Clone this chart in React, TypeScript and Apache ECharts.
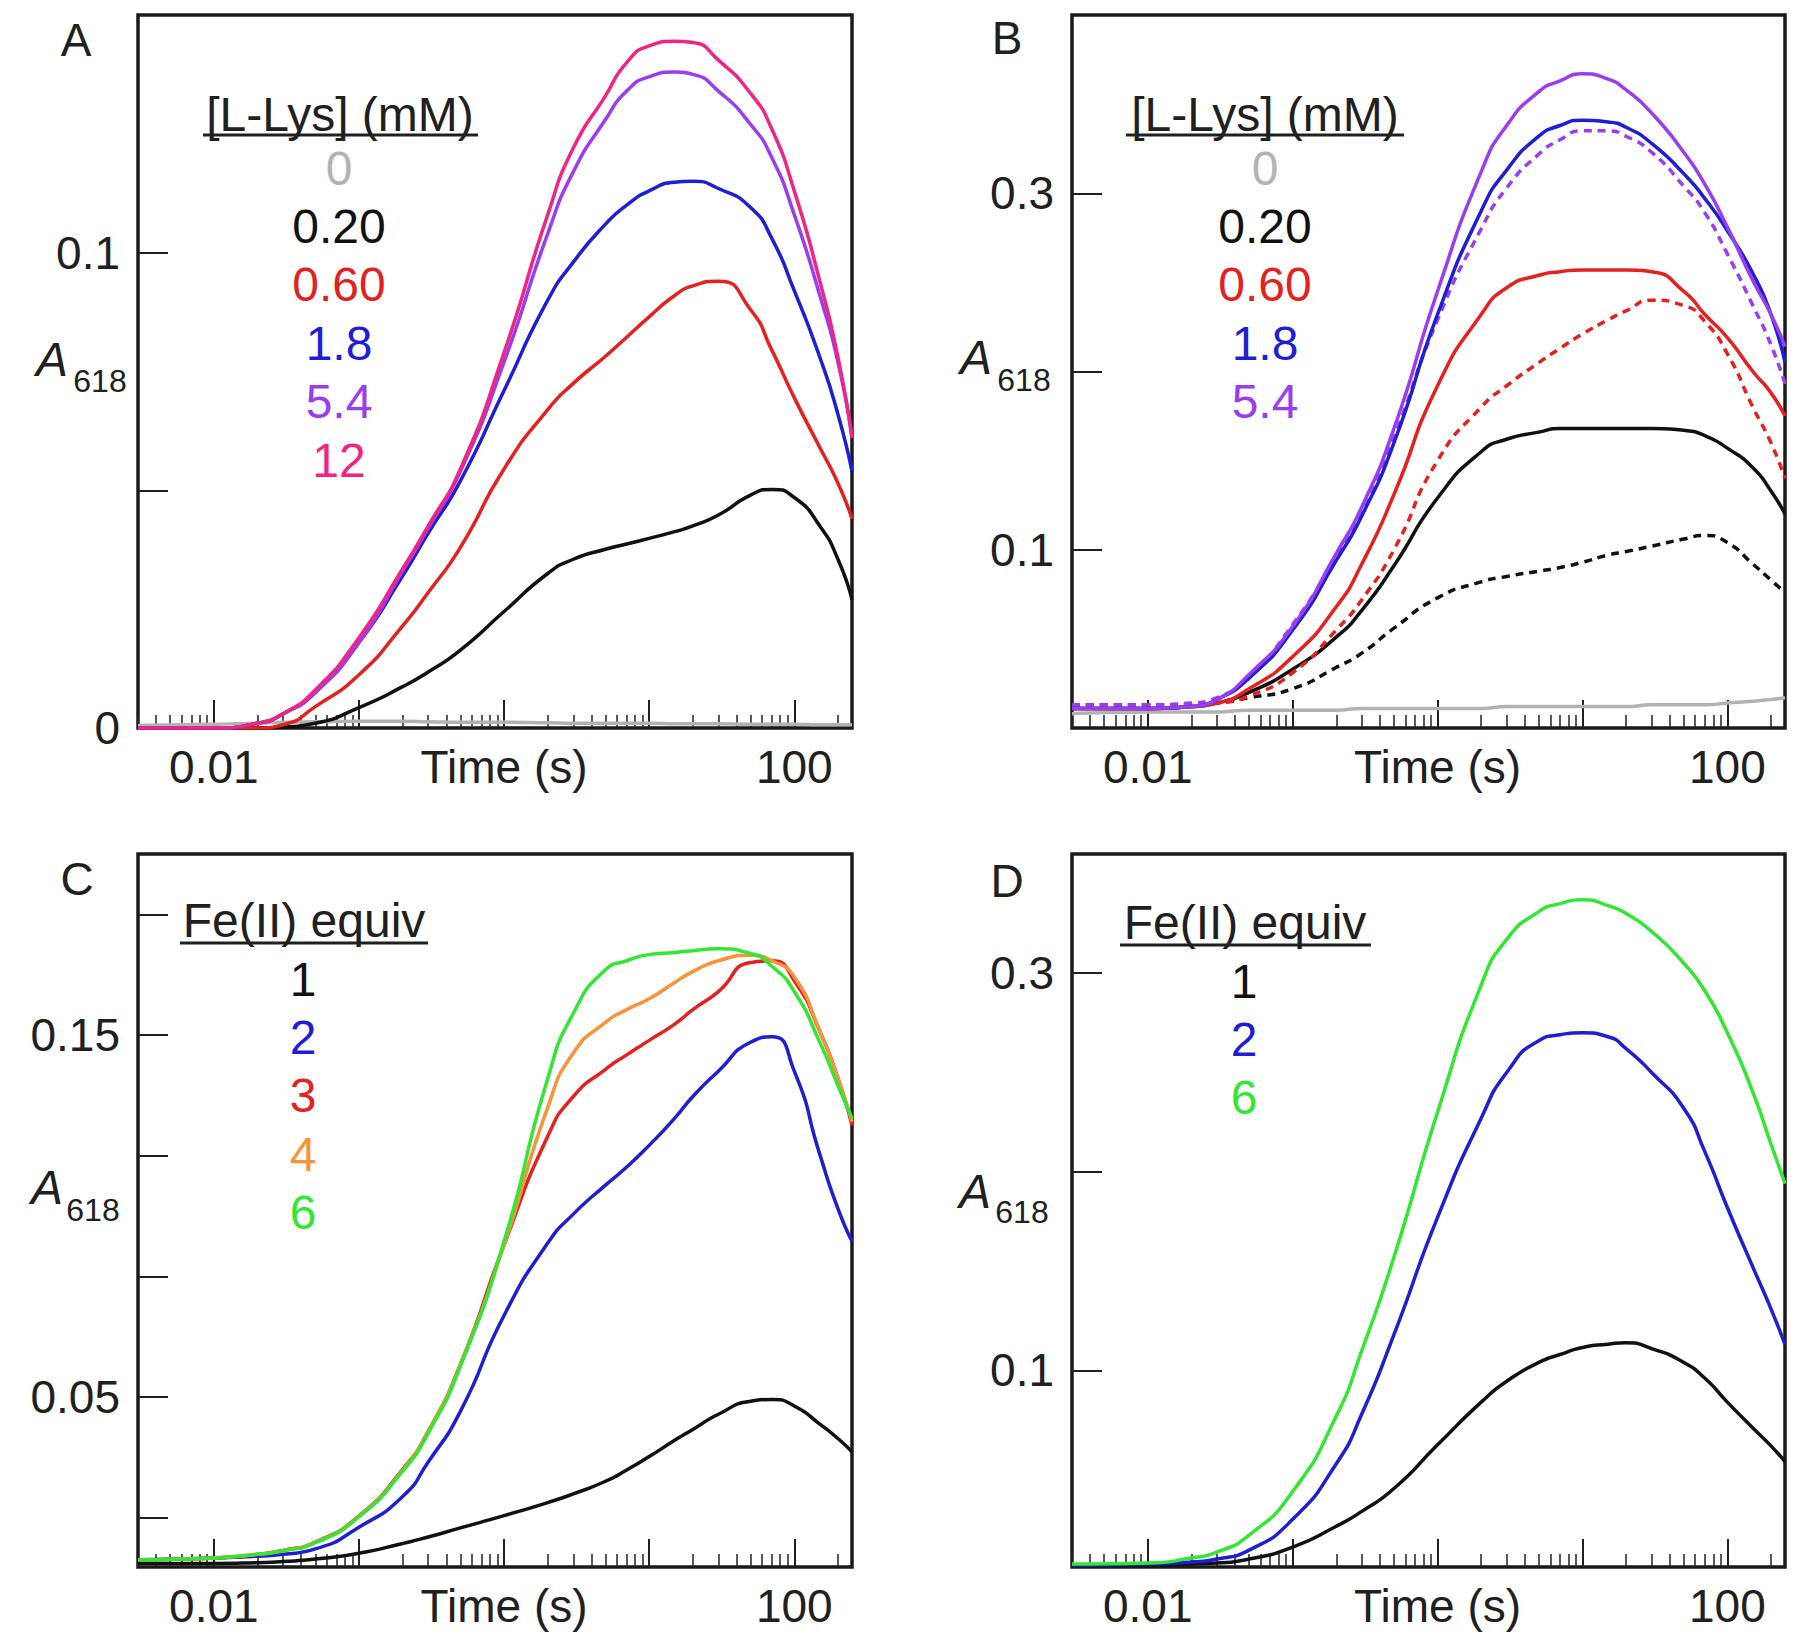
import React, { useEffect, useRef } from "react";
import * as echarts from "echarts";

// ---------- data ----------
const times = [0.003, 0.01, 0.02, 0.03, 0.05, 0.1, 0.2, 0.3, 0.5, 1, 2, 3, 5, 7, 10, 15, 20, 30, 50, 70, 100, 150, 200, 250];

// Panel A  ([L-Lys] series)
const aGray = [0.0005, 0.0008, 0.001, 0.0012, 0.0013, 0.0014, 0.0014, 0.0013, 0.0012, 0.0012, 0.0011, 0.001, 0.001, 0.001, 0.001, 0.0009, 0.0009, 0.0009, 0.0008, 0.0008, 0.0008, 0.0007, 0.0007, 0.0007];
const aBlack = [0, 0, 0, 0.0002, 0.001, 0.0043, 0.0087, 0.0118, 0.0164, 0.0245, 0.0325, 0.0355, 0.0376, 0.0387, 0.0399, 0.0413, 0.0425, 0.0448, 0.049, 0.0502, 0.0485, 0.0425, 0.0355, 0.027];
const aRed = [0, 0, 0, 0.0007, 0.0045, 0.0112, 0.0215, 0.0285, 0.038, 0.0545, 0.067, 0.0725, 0.0782, 0.0822, 0.0865, 0.091, 0.093, 0.094, 0.088, 0.0795, 0.0695, 0.059, 0.0515, 0.044];
const aBlue = [0, 0, 0.001, 0.003, 0.0075, 0.018, 0.032, 0.041, 0.052, 0.071, 0.09, 0.098, 0.106, 0.11, 0.113, 0.1148, 0.115, 0.1135, 0.1095, 0.103, 0.092, 0.078, 0.066, 0.054];
const aPurple = [0, 0, 0.001, 0.003, 0.0075, 0.018, 0.033, 0.042, 0.054, 0.077, 0.104, 0.117, 0.128, 0.134, 0.137, 0.138, 0.1375, 0.134, 0.127, 0.12, 0.108, 0.091, 0.077, 0.061];
const aPink = [0, 0, 0.001, 0.003, 0.008, 0.019, 0.0335, 0.0425, 0.0545, 0.079, 0.108, 0.122, 0.133, 0.14, 0.1435, 0.1445, 0.1442, 0.1405, 0.1335, 0.126, 0.113, 0.094, 0.078, 0.061];

// Panel B
const bGray = [0.008, 0.009, 0.009, 0.009, 0.01, 0.01, 0.01, 0.011, 0.011, 0.011, 0.011, 0.012, 0.012, 0.012, 0.012, 0.012, 0.012, 0.013, 0.013, 0.013, 0.014, 0.015, 0.016, 0.017];
const bBlack = [0.011, 0.011, 0.012, 0.014, 0.02, 0.033, 0.051, 0.066, 0.091, 0.129, 0.155, 0.162, 0.166, 0.168, 0.168, 0.168, 0.168, 0.168, 0.167, 0.164, 0.157, 0.146, 0.133, 0.12];
const bBlackDot = [0.013, 0.013, 0.013, 0.014, 0.017, 0.022, 0.034, 0.042, 0.056, 0.073, 0.082, 0.085, 0.088, 0.09, 0.093, 0.097, 0.099, 0.102, 0.106, 0.108, 0.104, 0.092, 0.083, 0.076];
const bRed = [0.011, 0.011, 0.012, 0.014, 0.022, 0.04, 0.068, 0.092, 0.131, 0.192, 0.232, 0.247, 0.254, 0.256, 0.257, 0.257, 0.257, 0.256, 0.245, 0.232, 0.219, 0.2, 0.188, 0.175];
const bRedDot = [0.013, 0.013, 0.013, 0.014, 0.018, 0.031, 0.055, 0.072, 0.1, 0.15, 0.18, 0.192, 0.205, 0.213, 0.221, 0.229, 0.234, 0.24, 0.237, 0.228, 0.21, 0.18, 0.16, 0.14];
const bBlue = [0.011, 0.011, 0.012, 0.016, 0.028, 0.055, 0.094, 0.119, 0.16, 0.232, 0.29, 0.313, 0.332, 0.338, 0.341, 0.34, 0.337, 0.328, 0.311, 0.297, 0.279, 0.255, 0.232, 0.205];
const bPurple = [0.011, 0.011, 0.012, 0.016, 0.03, 0.057, 0.098, 0.124, 0.168, 0.245, 0.312, 0.338, 0.357, 0.363, 0.367, 0.364, 0.358, 0.345, 0.323, 0.305, 0.281, 0.251, 0.232, 0.214];
const bPurpleDot = [0.013, 0.013, 0.014, 0.017, 0.029, 0.058, 0.096, 0.12, 0.163, 0.229, 0.28, 0.303, 0.322, 0.33, 0.335, 0.335, 0.332, 0.323, 0.304, 0.289, 0.266, 0.237, 0.215, 0.193];

// Panel C (Fe(II) equiv)
const cBlack = [0.004, 0.004, 0.0042, 0.0045, 0.0052, 0.0068, 0.0095, 0.0113, 0.0138, 0.0172, 0.0208, 0.0232, 0.0267, 0.0298, 0.0335, 0.038, 0.041, 0.0452, 0.0488, 0.0493, 0.0475, 0.0425, 0.0385, 0.0348];
const cBlue = [0.005, 0.0055, 0.006, 0.0065, 0.008, 0.014, 0.0225, 0.032, 0.046, 0.0725, 0.0925, 0.1005, 0.1085, 0.1135, 0.1195, 0.127, 0.133, 0.14, 0.148, 0.1495, 0.14, 0.117, 0.102, 0.093];
const cRed = [0.005, 0.0055, 0.0065, 0.0076, 0.0099, 0.0171, 0.03, 0.0405, 0.059, 0.092, 0.122, 0.133, 0.1405, 0.1445, 0.1485, 0.153, 0.157, 0.162, 0.17, 0.1705, 0.165, 0.151, 0.138, 0.125];
const cOrange = [0.005, 0.0055, 0.0065, 0.0075, 0.0098, 0.017, 0.0298, 0.0405, 0.059, 0.092, 0.13, 0.145, 0.1535, 0.157, 0.16, 0.1645, 0.1675, 0.1705, 0.172, 0.1705, 0.166, 0.151, 0.138, 0.126];
const cGreen = [0.005, 0.0055, 0.0065, 0.0075, 0.0097, 0.0169, 0.0295, 0.04, 0.0585, 0.093, 0.138, 0.156, 0.168, 0.1705, 0.1722, 0.1728, 0.1733, 0.1738, 0.1725, 0.169, 0.162, 0.148, 0.136, 0.127];

// Panel D
const dBlack = [0.002, 0.002, 0.0025, 0.003, 0.005, 0.011, 0.0215, 0.029, 0.0405, 0.0625, 0.084, 0.0945, 0.104, 0.108, 0.1115, 0.1132, 0.1139, 0.111, 0.104, 0.096, 0.084, 0.071, 0.062, 0.054];
const dBlue = [0.002, 0.0025, 0.0035, 0.005, 0.0095, 0.025, 0.053, 0.078, 0.118, 0.177, 0.227, 0.25, 0.266, 0.269, 0.27, 0.268, 0.262, 0.25, 0.232, 0.21, 0.182, 0.152, 0.131, 0.113];
const dGreen = [0.0025, 0.003, 0.0055, 0.0085, 0.017, 0.039, 0.077, 0.11, 0.157, 0.23, 0.294, 0.317, 0.331, 0.335, 0.337, 0.334, 0.33, 0.321, 0.305, 0.291, 0.27, 0.24, 0.214, 0.194];

// axes / ticks / labels
const xMin = 0.003;
const xMax = 250;
const xMajorTicks = [0.01, 0.1, 1, 10, 100];
const xMinorTicks = [0.003, 0.004, 0.005, 0.006, 0.007, 0.008, 0.009, 0.02, 0.03, 0.04, 0.05, 0.06, 0.07, 0.08, 0.09, 0.2, 0.3, 0.4, 0.5, 0.6, 0.7, 0.8, 0.9, 2, 3, 4, 5, 6, 7, 8, 9, 20, 30, 40, 50, 60, 70, 80, 90, 200];
const xLabelValues = [0.01, 1, 100];
const xAxisTitle = "Time (s)";

const aYLabels = [0, 0.1];
const aYTicks = [0.05, 0.1];
const bYLabels = [0.1, 0.3];
const bYTicks = [0.1, 0.2, 0.3];
const cYLabels = [0.05, 0.15];
const cYTicks = [0.016667, 0.05, 0.083333, 0.116667, 0.15, 0.183333];
const dYLabels = [0.1, 0.3];
const dYTicks = [0.1, 0.2, 0.3];

const lysHeader = "[L-Lys] (mM)";
const feHeader = "Fe(II) equiv";
const lysLevelsA = ["0", "0.20", "0.60", "1.8", "5.4", "12"];
const lysLevelsB = ["0", "0.20", "0.60", "1.8", "5.4"];
const feLevelsC = ["1", "2", "3", "4", "6"];
const feLevelsD = ["1", "2", "6"];

// ---------- styles ----------
const FONT = '"Liberation Sans", Arial, Helvetica, sans-serif';
const INK = "#202020";
const GRAY = "#b2b2b2";
const BLACK = "#111111";
const RED = "#e3211f";
const BLUE = "#1e1ed2";
const PURPLE = "#9a3cf0";
const PINK = "#ef2586";
const ORANGE = "#f7943b";
const GREEN = "#34e634";

type S = { name: string; values: number[]; color: string; dotted?: boolean };

const panels = [
  {
    letter: "A",
    grid: { left: 138, top: 15, width: 714, height: 713 },
    yMin: 0, yMax: 0.15, yLabels: aYLabels, yTicks: aYTicks, xLabelMargin: 16,
    letterPos: [76, 40], titleA: [52, 359], title618: [100, 381],
    header: lysHeader, headerPos: [340, 114], underline: [203, 478, 135],
    entries: lysLevelsA, entryColors: [GRAY, BLACK, RED, BLUE, PURPLE, PINK], entryX: 339, entryY0: 168, entryDy: 58.4,
    series: [
      { name: "0", values: aGray, color: GRAY },
      { name: "0.20", values: aBlack, color: BLACK },
      { name: "0.60", values: aRed, color: RED },
      { name: "1.8", values: aBlue, color: BLUE },
      { name: "5.4", values: aPurple, color: PURPLE },
      { name: "12", values: aPink, color: PINK },
    ] as S[],
  },
  {
    letter: "B",
    grid: { left: 1072, top: 15, width: 713, height: 713 },
    yMin: 0, yMax: 0.4, yLabels: bYLabels, yTicks: bYTicks, xLabelMargin: 16,
    letterPos: [1007, 38], titleA: [976, 357], title618: [1024, 380],
    header: lysHeader, headerPos: [1265, 114], underline: [1126, 1404, 135],
    entries: lysLevelsB, entryColors: [GRAY, BLACK, RED, BLUE, PURPLE], entryX: 1265, entryY0: 168, entryDy: 58.4,
    series: [
      { name: "0", values: bGray, color: GRAY },
      { name: "0.20 dotted", values: bBlackDot, color: BLACK, dotted: true },
      { name: "0.20", values: bBlack, color: BLACK },
      { name: "0.60 dotted", values: bRedDot, color: RED, dotted: true },
      { name: "0.60", values: bRed, color: RED },
      { name: "5.4 dotted", values: bPurpleDot, color: PURPLE, dotted: true },
      { name: "1.8", values: bBlue, color: BLUE },
      { name: "5.4", values: bPurple, color: PURPLE },
    ] as S[],
  },
  {
    letter: "C",
    grid: { left: 138, top: 854, width: 714, height: 713 },
    yMin: 0.003, yMax: 0.2, yLabels: cYLabels, yTicks: cYTicks, xLabelMargin: 16,
    letterPos: [77, 879], titleA: [47, 1187], title618: [93, 1210],
    header: feHeader, headerPos: [304, 920], underline: [180, 428, 943],
    entries: feLevelsC, entryColors: [BLACK, BLUE, RED, ORANGE, GREEN], entryX: 303, entryY0: 979, entryDy: 58.4,
    series: [
      { name: "1", values: cBlack, color: BLACK },
      { name: "2", values: cBlue, color: BLUE },
      { name: "3", values: cRed, color: RED },
      { name: "4", values: cOrange, color: ORANGE },
      { name: "6", values: cGreen, color: GREEN },
    ] as S[],
  },
  {
    letter: "D",
    grid: { left: 1072, top: 854, width: 713, height: 713 },
    yMin: 0.001, yMax: 0.36, yLabels: dYLabels, yTicks: dYTicks, xLabelMargin: 16,
    letterPos: [1007, 881], titleA: [975, 1191], title618: [1022, 1212],
    header: feHeader, headerPos: [1245, 922], underline: [1120, 1371, 945],
    entries: feLevelsD, entryColors: [BLACK, BLUE, GREEN], entryX: 1244, entryY0: 981, entryDy: 58.4,
    series: [
      { name: "1", values: dBlack, color: BLACK },
      { name: "2", values: dBlue, color: BLUE },
      { name: "6", values: dGreen, color: GREEN },
    ] as S[],
  },
];

function xLabelFormatter(v: number) {
  if (Math.abs(v - 1) < 1e-6) return xAxisTitle;
  if (v < 0.1) return "0.01";
  if (v > 50) return "100";
  return "";
}

function yLabelFormatter(v: number) {
  if (Math.abs(v) < 1e-9) return "0";
  return String(+v.toFixed(3));
}

function txt(x: number, y: number, text: string, font: string, fill: string, align = "center") {
  return {
    type: "text",
    x,
    y,
    silent: true,
    style: { text, font, fill, align, textAlign: align, verticalAlign: "middle", textVerticalAlign: "middle" },
  };
}

function buildOption() {
  const grid: any[] = [];
  const xAxis: any[] = [];
  const yAxis: any[] = [];
  const series: any[] = [];
  const graphic: any[] = [];
  const tickLine = { color: INK, width: 2 };

  panels.forEach((p, i) => {
    grid.push({ ...p.grid, show: true, borderColor: "#1a1a1a", borderWidth: 3.5, backgroundColor: "transparent" });
    xAxis.push({
      type: "log", logBase: 10, gridIndex: i, min: xMin, max: xMax, position: "bottom",
      axisLine: { show: false, onZero: false },
      axisTick: { show: true, inside: true, length: 28, customValues: xMajorTicks, lineStyle: tickLine },
      axisLabel: { show: true, customValues: xLabelValues, formatter: xLabelFormatter, margin: p.xLabelMargin, fontFamily: FONT, fontSize: 46, color: INK },
      splitLine: { show: false },
    });
    xAxis.push({
      type: "log", logBase: 10, gridIndex: i, min: xMin, max: xMax, position: "bottom",
      axisLine: { show: false, onZero: false },
      axisTick: { show: true, inside: true, length: 13, customValues: xMinorTicks, lineStyle: { color: INK, width: 1.5 } },
      axisLabel: { show: false },
      splitLine: { show: false },
    });
    yAxis.push({
      type: "value", gridIndex: i, min: p.yMin, max: p.yMax, position: "left",
      axisLine: { show: false, onZero: false },
      axisTick: { show: true, inside: true, length: 30, customValues: p.yTicks, lineStyle: tickLine },
      axisLabel: { show: true, customValues: p.yLabels, formatter: yLabelFormatter, margin: 18, fontFamily: FONT, fontSize: 46, color: INK },
      splitLine: { show: false },
    });
    p.series.forEach((s, k) => {
      series.push({
        type: "line",
        name: s.name,
        xAxisIndex: 2 * i,
        yAxisIndex: i,
        data: times.map((t, j) => [t, s.values[j]]),
        showSymbol: false,
        symbol: "none",
        smooth: 0.6,
        silent: true,
        z: 2 + k,
        lineStyle: { color: s.color, width: 3.5, type: s.dotted ? [8, 6] : "solid" },
        itemStyle: { color: s.color },
      });
    });

    // panel letter, y-axis title, legend
    graphic.push(txt(p.letterPos[0], p.letterPos[1], p.letter, `46px ${FONT}`, INK));
    graphic.push(txt(p.titleA[0], p.titleA[1], "A", `italic 48px ${FONT}`, INK));
    graphic.push(txt(p.title618[0], p.title618[1], "618", `32px ${FONT}`, INK));
    graphic.push(txt(p.headerPos[0], p.headerPos[1], p.header, `48px ${FONT}`, INK));
    graphic.push({
      type: "line",
      silent: true,
      shape: { x1: p.underline[0], y1: p.underline[2], x2: p.underline[1], y2: p.underline[2] },
      style: { stroke: INK, lineWidth: 3 },
    });
    p.entries.forEach((e, k) => {
      graphic.push(txt(p.entryX, p.entryY0 + k * p.entryDy, e, `48px ${FONT}`, p.entryColors[k]));
    });
  });

  return {
    animation: false,
    backgroundColor: "#ffffff",
    textStyle: { fontFamily: FONT },
    grid,
    xAxis,
    yAxis,
    series,
    graphic: { elements: graphic },
  };
}

export default function App() {
  const ref = useRef<HTMLDivElement>(null);
  useEffect(() => {
    if (!ref.current) return;
    const chart = echarts.init(ref.current, null, { renderer: "svg" });
    chart.setOption(buildOption() as any);
    return () => chart.dispose();
  }, []);
  return (
    <div
      ref={ref}
      style={{ position: "absolute", left: 0, top: 0, width: 1800, height: 1647, background: "#fff" }}
    />
  );
}
